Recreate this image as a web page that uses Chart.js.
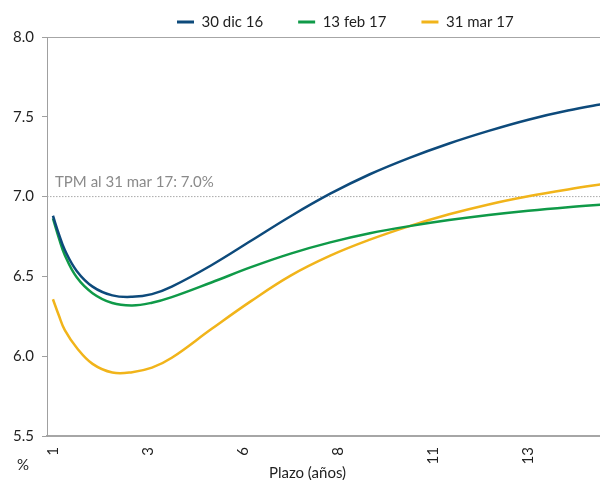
<!DOCTYPE html>
<html>
<head>
<meta charset="utf-8">
<title>Curva de rendimiento</title>
<script src="https://cdn.jsdelivr.net/npm/chart.js@4.4.1/dist/chart.umd.min.js"></script>
<style>
  html, body { margin: 0; padding: 0; background: #ffffff; }
  #wrap { width: 600px; height: 480px; }
</style>
</head>
<body>
<div id="wrap"><canvas id="curve" width="600" height="480"></canvas></div>
<script>
// Plazos (años) at which each curve is sampled
const terms = [1, 1.15, 1.3, 1.6, 2, 2.5, 3, 3.5, 4, 5, 6, 7, 8, 9, 10, 11, 12, 13, 14, 15];

// Tasas (%) for each date
const curveDic16 = [6.880, 6.765, 6.665, 6.534, 6.436, 6.381, 6.372, 6.389, 6.436, 6.570, 6.723, 6.877, 7.018, 7.140, 7.243, 7.333, 7.412, 7.482, 7.539, 7.585];
const curveFeb17 = [6.863, 6.740, 6.633, 6.494, 6.395, 6.333, 6.318, 6.335, 6.370, 6.462, 6.558, 6.643, 6.713, 6.770, 6.815, 6.853, 6.885, 6.912, 6.934, 6.952];
const curveMar17 = [6.357, 6.255, 6.163, 6.053, 5.952, 5.898, 5.900, 5.928, 5.990, 6.170, 6.345, 6.505, 6.630, 6.730, 6.815, 6.889, 6.951, 7.002, 7.045, 7.083];

const seriesLabels = ['30 dic 16', '13 feb 17', '31 mar 17'];
const seriesColors = ['#0d4a7b', '#0f9a48', '#f1b41a'];

// Category marks on the plazo axis
const xTickTerms = [1, 3.4, 5.8, 8.2, 10.6, 13];
const xTickLabels = ['1', '3', '6', '8', '11', '13'];

// Tasa de política monetaria
const tpmRate = 7.0;
const tpmLabel = 'TPM al 31 mar 17: ' + tpmRate.toFixed(1) + '%';

const xMin = 0.85, xMax = 14.81;
const yMin = 5.5, yMax = 8.0, yStep = 0.5;

const FONT = 'Lato, "Open Sans", "DejaVu Sans", sans-serif';
const TEXT = '#1f1f1f';
Chart.defaults.font.family = FONT;
Chart.defaults.font.size = 15;
Chart.defaults.color = TEXT;

const toPoints = vals => terms.map((t, i) => ({ x: t, y: vals[i] }));

const curveSets = [curveDic16, curveFeb17, curveMar17].map((vals, i) => ({
  label: seriesLabels[i],
  data: toPoints(vals),
  borderColor: seriesColors[i],
  backgroundColor: seriesColors[i],
  borderWidth: 2.5,
  pointRadius: 0,
  tension: 0.4,
  fill: false,
  order: 1
}));

const tpmSet = {
  label: 'TPM',
  data: [{ x: xMin, y: tpmRate }, { x: xMax, y: tpmRate }],
  borderColor: '#a9a9a9',
  borderWidth: 1,
  borderDash: [1.5, 1.5],
  pointRadius: 0,
  fill: false,
  order: 5
};

// Extra texts and legend placement
const extras = {
  id: 'curveExtras',
  afterLayout(chart) {
    const lg = chart.legend;
    if (!lg) return;
    const pad = lg.options.labels.padding;
    lg.left = 177 - pad;
    lg.top += 2.5;
    lg.bottom += 2.5;
  },
  afterDraw(chart) {
    const ctx = chart.ctx;
    const area = chart.chartArea;
    const y = chart.scales.y;
    ctx.save();
    ctx.font = '15px ' + FONT;
    ctx.textBaseline = 'middle';
    ctx.fillStyle = '#8a8a8a';
    ctx.textAlign = 'left';
    ctx.fillText(tpmLabel, area.left + 8, y.getPixelForValue(tpmRate) - 14);
    ctx.fillStyle = TEXT;
    ctx.textAlign = 'center';
    ctx.fillText('Plazo (años)', 307.5, 473);
    ctx.fillText('%', 23, 465);
    ctx.restore();
  }
};

new Chart(document.getElementById('curve'), {
  type: 'line',
  data: { datasets: [...curveSets, tpmSet] },
  plugins: [extras],
  options: {
    responsive: false,
    animation: false,
    layout: { padding: { top: -23, left: 0, right: 0, bottom: 0 } },
    scales: {
      x: {
        type: 'linear',
        min: xMin,
        max: xMax,
        afterBuildTicks: s => { s.ticks = xTickTerms.map(v => ({ value: v })); },
        afterFit: s => { s.height = 44; },
        grid: { display: false, tickLength: 8 },
        border: { display: true, color: '#a6a6a6', width: 2 },
        ticks: {
          autoSkip: false,
          minRotation: 90,
          maxRotation: 90,
          padding: 3,
          color: TEXT,
          callback: v => xTickLabels[xTickTerms.indexOf(v)]
        }
      },
      y: {
        type: 'linear',
        min: yMin,
        max: yMax,
        afterFit: s => { s.width = 47; },
        grid: {
          color: c => (c.tick && c.tick.value === yMax ? '#a6a6a6' : 'rgba(0,0,0,0)'),
          tickColor: '#a0a0a0',
          tickLength: 5,
          lineWidth: 1
        },
        border: { display: true, color: '#a0a0a0', width: 1 },
        ticks: {
          stepSize: yStep,
          padding: 8,
          color: TEXT,
          callback: v => Number(v).toFixed(1)
        }
      }
    },
    plugins: {
      tooltip: { enabled: false },
      legend: {
        position: 'top',
        align: 'start',
        labels: {
          boxWidth: 17,
          boxHeight: 3,
          padding: 35,
          color: TEXT,
          font: { size: 15 },
          generateLabels: chart =>
            Chart.defaults.plugins.legend.labels.generateLabels(chart)
              .filter(it => it.datasetIndex < 3)
              .map(it => Object.assign(it, { lineWidth: 0, fillStyle: it.strokeStyle }))
        }
      }
    }
  }
});
</script>
</body>
</html>
